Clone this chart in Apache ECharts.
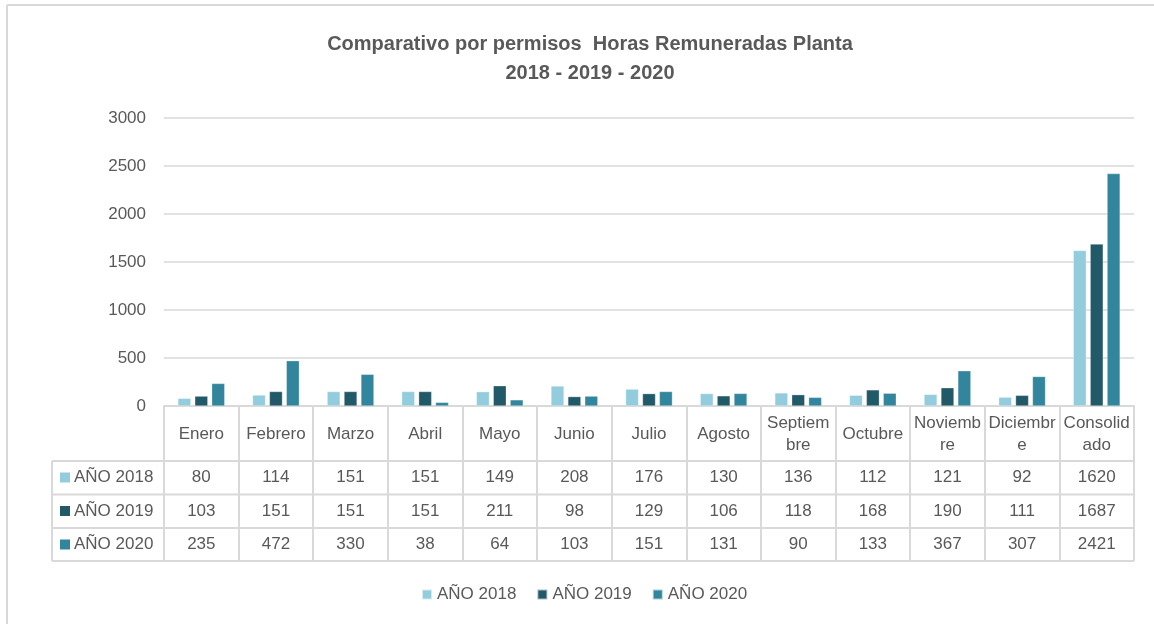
<!DOCTYPE html>
<html>
<head>
<meta charset="utf-8">
<script src="https://cdn.jsdelivr.net/npm/echarts@6/dist/echarts.min.js"></script>
<style>
html,body{margin:0;padding:0;background:#fff;}
#c{width:1154px;height:624px;}
</style>
</head>
<body>
<div id="c"></div>
<script>
var categories = ['Enero','Febrero','Marzo','Abril','Mayo','Junio','Julio','Agosto','Septiembre','Octubre','Noviembre','Diciembre','Consolidado'];
var categoryLabels = ['Enero','Febrero','Marzo','Abril','Mayo','Junio','Julio','Agosto','Septiem\nbre','Octubre','Noviemb\nre','Diciembr\ne','Consolid\nado'];
var seriesNames = ['AÑO 2018','AÑO 2019','AÑO 2020'];
var values2018 = [80,114,151,151,149,208,176,130,136,112,121,92,1620];
var values2019 = [103,151,151,151,211,98,129,106,118,168,190,111,1687];
var values2020 = [235,472,330,38,64,103,151,131,90,133,367,307,2421];
var colors = ['#93cddd','#215968','#31859c'];
var yTicks = [0,500,1000,1500,2000,2500,3000];

var allValues = [values2018, values2019, values2020];
var FONT = 'Liberation Sans, Arial, sans-serif';
var TXT = '#595959';
var LINE = '#d9d9d9';
var FS = 17;

var chart = echarts.init(document.getElementById('c'));

var GRID = {left:164, right:20, top:118, bottom:218};
var rowMargins = [71.5, 105, 138.5];

var xAxes = [{
  type:'category', data: categoryLabels, position:'bottom', gridIndex:0,
  axisLine:{show:true, lineStyle:{color:LINE, width:2}},
  axisTick:{show:true, length:155, lineStyle:{color:LINE, width:2}},
  axisLabel:{interval:0, margin:28, verticalAlign:'middle', lineHeight:22, fontSize:FS, color:TXT, fontFamily:FONT}
}];
allValues.forEach(function(vals, i){
  xAxes.push({
    type:'category', data: vals.map(String), position:'bottom', gridIndex:0,
    axisLine:{show:false}, axisTick:{show:false}, splitLine:{show:false},
    axisLabel:{interval:0, margin:rowMargins[i], verticalAlign:'middle', fontSize:FS, color:TXT, fontFamily:FONT}
  });
});

var series = allValues.map(function(vals, i){
  return {
    name: seriesNames[i], type:'bar', xAxisIndex:0, yAxisIndex:0,
    data: vals, barWidth:13, barGap:'30%',
    itemStyle:{color:colors[i], borderColor:'rgba(255,255,255,0.6)', borderWidth:0.5}
  };
});

var option = {
  animation:false,
  backgroundColor:'#fff',
  title:{
    text:'Comparativo por permisos  Horas Remuneradas Planta\n2018 - 2019 - 2020',
    left:585, textAlign:'center', top:25,
    textStyle:{fontFamily:FONT, fontSize:20, fontWeight:'bold', color:TXT, lineHeight:29}
  },
  legend:{
    data: seriesNames, bottom:16, left:416, icon:'rect', itemWidth:10, itemHeight:10, itemGap:20,
    textStyle:{fontFamily:FONT, fontSize:FS, color:TXT}
  },
  grid: GRID,
  xAxis: xAxes,
  yAxis:{
    type:'value', min:yTicks[0], max:yTicks[yTicks.length-1], interval:500,
    axisLine:{show:false}, axisTick:{show:false},
    splitLine:{lineStyle:{color:LINE, width:1.5}},
    axisLabel:{margin:18, fontSize:FS, color:TXT, fontFamily:FONT, formatter:function(v){return String(v);}}
  },
  series: series
};
chart.setOption(option);

// Table decorations (borders and legend keys in the left column)
function buildTable(){
  var x0 = chart.convertToPixel({xAxisIndex:0}, 0);
  var x1 = chart.convertToPixel({xAxisIndex:0}, categories.length-1);
  var band = (x1 - x0) / (categories.length - 1);
  var right = x1 + band/2;
  var yBase = chart.convertToPixel({yAxisIndex:0}, 0);
  var rowLines = [yBase+55, yBase+88.5, yBase+122, yBase+155];
  var tableLeft = 52;
  var els = [];
  rowLines.forEach(function(y){
    els.push({type:'line', shape:{x1:tableLeft, y1:y, x2:right, y2:y}, style:{stroke:LINE, lineWidth:2}, silent:true});
  });
  els.push({type:'line', shape:{x1:tableLeft, y1:rowLines[0], x2:tableLeft, y2:rowLines[3]}, style:{stroke:LINE, lineWidth:2}, silent:true});
  seriesNames.forEach(function(n, i){
    var cy = yBase + rowMargins[i];
    els.push({type:'rect', shape:{x:60, y:cy-5, width:10, height:10}, style:{fill:colors[i]}, silent:true});
    els.push({type:'text', x:74, y:cy, style:{text:n, fill:TXT, font:FS+'px '+FONT, verticalAlign:'middle'}, silent:true});
  });
  // outer chart border (top and left visible)
  els.push({type:'line', shape:{x1:7, y1:5, x2:1154, y2:5}, style:{stroke:LINE, lineWidth:2}, silent:true});
  els.push({type:'line', shape:{x1:7, y1:5, x2:7, y2:624}, style:{stroke:LINE, lineWidth:2}, silent:true});
  chart.setOption({graphic: els});
}
buildTable();
</script>
</body>
</html>
